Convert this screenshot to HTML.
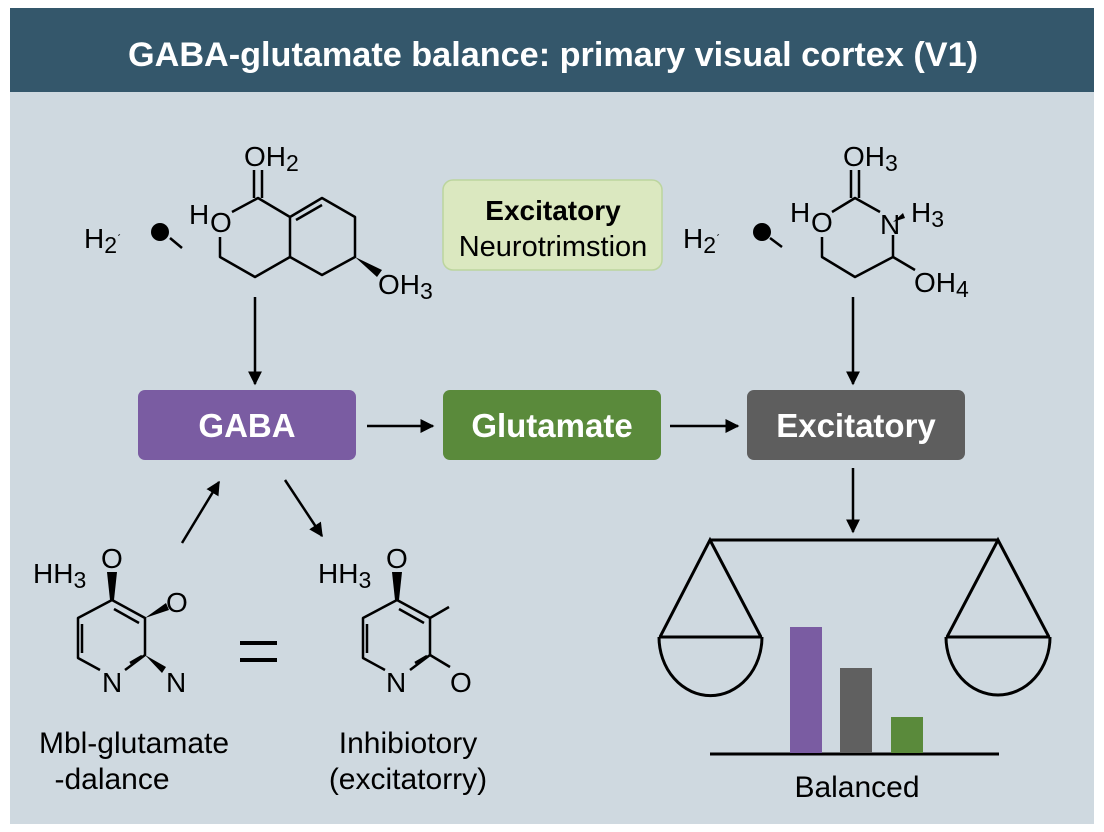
<!DOCTYPE html>
<html><head><meta charset="utf-8"><style>
html,body{margin:0;padding:0;background:#fff;}
svg{display:block;font-family:"Liberation Sans",Arial,sans-serif;}
</style></head><body>
<svg width="1104" height="832" viewBox="0 0 1104 832" xmlns="http://www.w3.org/2000/svg">
<defs>
<marker id="ah" viewBox="0 0 10 10" refX="9" refY="5" markerWidth="14" markerHeight="14" markerUnits="userSpaceOnUse" orient="auto">
<path d="M0,0 L10,5 L0,10 z" fill="#000"/></marker>
</defs>
<rect x="0" y="0" width="1104" height="832" fill="#fff"/>
<rect x="10" y="92" width="1084" height="732" fill="#cfd9e0"/>
<rect x="10" y="8" width="1084" height="84" fill="#34576b"/>
<text x="553" y="66" text-anchor="middle" font-size="34" font-weight="bold" fill="#fff" textLength="850" lengthAdjust="spacingAndGlyphs">GABA-glutamate balance: primary visual cortex (V1)</text>

<g stroke="#000" stroke-width="2.5" fill="none" stroke-linejoin="round">
<line x1="254" y1="170" x2="254" y2="198"/><line x1="262" y1="170" x2="262" y2="198"/>
<polyline points="232,212 258,198 290,217 322,198 355,217 355,257 322,275 290,257 290,217"/>
<line x1="296" y1="220" x2="322" y2="205"/>
<polyline points="290,257 255,277 220,257 220,237"/>
<line x1="170" y1="238" x2="182" y2="248"/>
<line x1="851" y1="170" x2="851" y2="198"/><line x1="859" y1="170" x2="859" y2="198"/>
<polyline points="832,212 855,198 880,212"/>
<polyline points="893,235 893,257 855,277 822,257 822,237"/>
<line x1="893" y1="257" x2="915" y2="270"/>
<line x1="770" y1="238" x2="782" y2="247"/>
<polyline points="112,600 145,618 145,655 125,670"/>
<polyline points="100,670 78,658 78,618 112,600"/>
<line x1="82" y1="624" x2="82" y2="653"/>
<line x1="114" y1="609" x2="139" y2="623"/>
<line x1="130" y1="663" x2="142" y2="656"/>
<polyline points="397,600 430,618 430,655 410,670"/>
<polyline points="385,670 363,658 363,618 397,600"/>
<line x1="367" y1="624" x2="367" y2="653"/>
<line x1="399" y1="609" x2="424" y2="623"/>
<line x1="415" y1="663" x2="427" y2="656"/>
<line x1="430" y1="618" x2="449" y2="607"/>
<line x1="430" y1="655" x2="450" y2="667"/>
<line x1="240" y1="643" x2="277" y2="643" stroke-width="4"/>
<line x1="240" y1="660" x2="277" y2="660" stroke-width="4"/>
</g>
<g fill="#000">
<polygon points="355,257 382,270 377,277"/>
<polygon points="110,600 114,600 117,572 107,572"/>
<polygon points="145,618 166,603 169,610"/>
<polygon points="145,655 166,667 162,673"/>
<polygon points="395,600 399,600 402,572 392,572"/>
<polygon points="893,222 903,213 905,218"/>
<circle cx="160" cy="232" r="9"/>
<circle cx="762" cy="232" r="9"/>
</g>
<g font-size="28" fill="#000">
<text x="244" y="166">OH<tspan font-size="23" dy="5">2</tspan></text>
<text x="189" y="224">H</text><text x="210" y="232">O</text>
<text x="378" y="294">OH<tspan font-size="23" dy="5">3</tspan></text>
<text x="84" y="248">H<tspan font-size="23" dy="5">2</tspan><tspan font-size="12" dy="-10">ˊ</tspan></text>
<text x="843" y="166">OH<tspan font-size="23" dy="5">3</tspan></text>
<text x="790" y="222">H</text><text x="811" y="232">O</text>
<text x="880" y="234">N</text><text x="911" y="222">H<tspan font-size="23" dy="5">3</tspan></text>
<text x="914" y="292">OH<tspan font-size="23" dy="5">4</tspan></text>
<text x="683" y="248">H<tspan font-size="23" dy="5">2</tspan><tspan font-size="12" dy="-10">ˊ</tspan></text>
<text x="33" y="583">HH<tspan font-size="23" dy="5">3</tspan></text>
<text x="101" y="568">O</text>
<text x="166" y="612">O</text>
<text x="102" y="692">N</text>
<text x="166" y="692">N</text>
<text x="318" y="583">HH<tspan font-size="23" dy="5">3</tspan></text>
<text x="386" y="568">O</text>
<text x="386" y="692">N</text>
<text x="450" y="692">O</text>
</g>

<rect x="443" y="180" width="219" height="90" rx="10" fill="#dbe8c0" stroke="#bcd59e" stroke-width="1.5"/>
<text x="553" y="220" text-anchor="middle" font-size="28" font-weight="bold">Excitatory</text>
<text x="553" y="256" text-anchor="middle" font-size="29">Neurotrimstion</text>

<rect x="138" y="390" width="218" height="70" rx="7" fill="#7a5ca2"/>
<text x="247" y="437" text-anchor="middle" font-size="33" font-weight="bold" fill="#fff">GABA</text>
<rect x="443" y="390" width="218" height="70" rx="7" fill="#5a8a3b"/>
<text x="552" y="437" text-anchor="middle" font-size="33" font-weight="bold" fill="#fff">Glutamate</text>
<rect x="747" y="390" width="218" height="70" rx="7" fill="#5e5e5e"/>
<text x="856" y="437" text-anchor="middle" font-size="33" font-weight="bold" fill="#fff">Excitatory</text>

<g stroke="#000" stroke-width="2.5" marker-end="url(#ah)">
<line x1="255" y1="297" x2="255" y2="384"/>
<line x1="367" y1="426" x2="433" y2="426"/>
<line x1="670" y1="426" x2="738" y2="426"/>
<line x1="853" y1="297" x2="853" y2="384"/>
<line x1="853" y1="468" x2="853" y2="532"/>
<line x1="182" y1="543" x2="219" y2="482"/>
<line x1="285" y1="480" x2="322" y2="536"/>
</g>

<g stroke="#000" stroke-width="3" fill="none">
<line x1="710" y1="540" x2="998" y2="540"/>
<polyline points="660,637 710,540 761,637"/>
<line x1="659" y1="637" x2="762" y2="637"/>
<path d="M659,637 A51,58 0 0 0 762,637"/>
<polyline points="947,637 998,540 1049,637"/>
<line x1="946" y1="637" x2="1050" y2="637"/>
<path d="M946,637 A52,58 0 0 0 1050,637"/>
<line x1="710" y1="754" x2="999" y2="754"/>
</g>
<rect x="790" y="627" width="32" height="126" fill="#7a5ca2"/>
<rect x="840" y="668" width="32" height="85" fill="#606060"/>
<rect x="891" y="717" width="32" height="36" fill="#5a8a3b"/>
<text x="857" y="797" text-anchor="middle" font-size="30">Balanced</text>

<g font-size="30" text-anchor="middle">
<text x="134" y="753">Mbl-glutamate</text>
<text x="112" y="789">-dalance</text>
<text x="408" y="753">Inhibiotory</text>
<text x="408" y="789">(excitatorry)</text>
</g>
</svg>
</body></html>
